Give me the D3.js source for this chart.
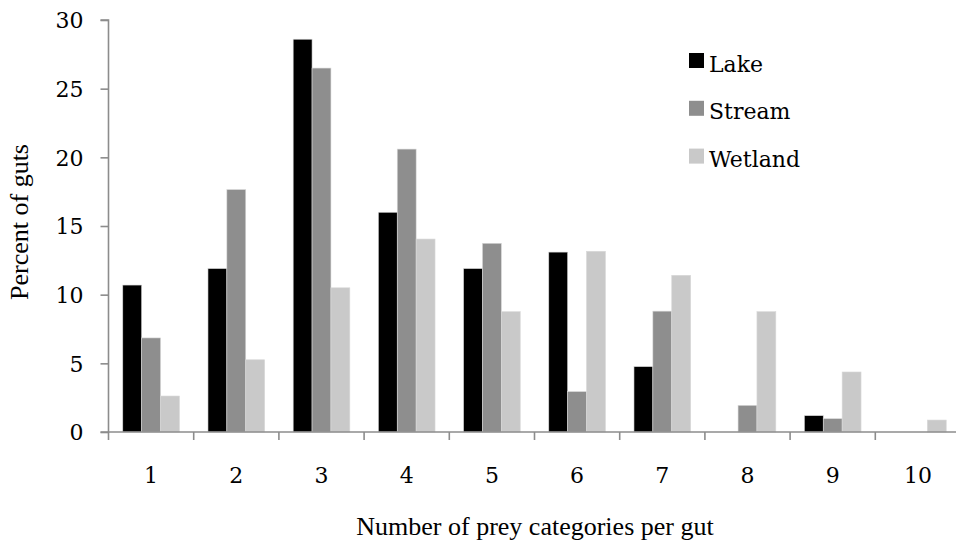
<!DOCTYPE html>
<html>
<head>
<meta charset="utf-8">
<script src="https://cdn.jsdelivr.net/npm/d3@7/dist/d3.min.js"></script>
<style>
  html, body { margin: 0; padding: 0; background: #fff; }
  svg { display: block; }
</style>
</head>
<body>
<svg id="chart" width="956" height="542"></svg>
<script>
// Number of prey categories found per gut
const categories = ["1", "2", "3", "4", "5", "6", "7", "8", "9", "10"];
const seriesNames = ["Lake", "Stream", "Wetland"];
const lake    = [10.7, 11.9, 28.6, 16.0, 11.9, 13.1, 4.76, 0, 1.19, 0];
const stream  = [6.85, 17.65, 26.5, 20.6, 13.74, 2.94, 8.8, 1.94, 0.97, 0];
const wetland = [2.62, 5.26, 10.5, 14.05, 8.76, 13.16, 11.41, 8.76, 4.37, 0.87];
const yTicks  = [0, 5, 10, 15, 20, 25, 30];
const colors  = ["#000000", "#8e8e8e", "#c9c9c9"];

const series = [lake, stream, wetland];

const svg = d3.select("#chart");
const margin = { left: 108.5, top: 20, bottom: 110 };
const plotBottom = 432;
const bandW = 85.2;

const x = d3.scaleBand()
  .domain(categories)
  .range([margin.left, margin.left + bandW * categories.length])
  .paddingInner(0.335)
  .paddingOuter(0.1675);

const xSub = d3.scaleBand()
  .domain(seriesNames)
  .range([0, x.bandwidth()]);

const y = d3.scaleLinear()
  .domain([0, 30])
  .range([plotBottom, margin.top]);

// Bars
const groups = svg.append("g")
  .selectAll("g")
  .data(categories)
  .join("g")
  .attr("transform", d => `translate(${x(d)},0)`);

groups.selectAll("rect")
  .data((c, i) => seriesNames.map((s, k) => ({ s, k, v: series[k][i] })))
  .join("rect")
  .filter(d => d.v > 0)
  .attr("x", d => xSub(d.s))
  .attr("width", xSub.bandwidth())
  .attr("y", d => y(d.v))
  .attr("height", d => plotBottom - y(d.v))
  .attr("fill", d => colors[d.k])
  .attr("stroke", "#d8d8d8")
  .attr("stroke-width", 0.6);

const axisColor = "#8c8c8c";

// Y axis
const yAxis = svg.append("g")
  .attr("transform", `translate(${margin.left},0)`)
  .call(d3.axisLeft(y).tickValues(yTicks).tickSize(8).tickPadding(17));
yAxis.select(".domain").attr("stroke", axisColor).attr("stroke-width", 1.6)
  .attr("d", `M-8,${y(30)}H0V${y(0)}H-8`);
yAxis.selectAll(".tick line").attr("stroke", axisColor).attr("stroke-width", 1.6);
yAxis.selectAll(".tick text")
  .attr("font-family", "'DejaVu Serif', serif")
  .attr("font-size", 22)
  .attr("fill", "#000")
  .attr("dy", "0.36em");

// X axis: a baseline with ticks at the category boundaries
const xAxis = svg.append("g").attr("transform", `translate(0,${plotBottom})`);
const xEnd = margin.left + bandW * categories.length;
xAxis.append("line")
  .attr("x1", margin.left).attr("x2", xEnd)
  .attr("stroke", axisColor).attr("stroke-width", 1.6);
xAxis.selectAll("line.tk")
  .data(d3.range(categories.length + 1))
  .join("line")
  .attr("class", "tk")
  .attr("x1", i => margin.left + i * bandW)
  .attr("x2", i => margin.left + i * bandW)
  .attr("y1", 0).attr("y2", 8)
  .attr("stroke", axisColor).attr("stroke-width", 1.6);
xAxis.selectAll("text")
  .data(categories)
  .join("text")
  .attr("x", d => x(d) + x.bandwidth() / 2)
  .attr("y", 51)
  .attr("text-anchor", "middle")
  .attr("font-family", "'DejaVu Serif', serif")
  .attr("font-size", 22)
  .attr("fill", "#000")
  .text(d => d);

// Axis titles
svg.append("text")
  .attr("x", 535)
  .attr("y", 535)
  .attr("text-anchor", "middle")
  .attr("font-family", "'Liberation Serif', 'Times New Roman', serif")
  .attr("font-size", 26)
  .attr("fill", "#000")
  .text("Number of prey categories per gut");

svg.append("text")
  .attr("transform", "translate(28,222) rotate(-90)")
  .attr("text-anchor", "middle")
  .attr("font-family", "'Liberation Serif', 'Times New Roman', serif")
  .attr("font-size", 26)
  .attr("fill", "#000")
  .text("Percent of guts");

// Legend
const legend = svg.append("g").attr("transform", "translate(689,53)");
const items = legend.selectAll("g")
  .data(seriesNames)
  .join("g")
  .attr("transform", (d, i) => `translate(0,${i * 47.8})`);
items.append("rect")
  .attr("width", 15).attr("height", 15)
  .attr("fill", (d, i) => colors[i]);
items.append("text")
  .attr("x", 20).attr("y", 18.5)
  .attr("font-family", "'DejaVu Serif', serif")
  .attr("font-size", 22)
  .attr("fill", "#000")
  .text(d => d);
</script>
</body>
</html>
